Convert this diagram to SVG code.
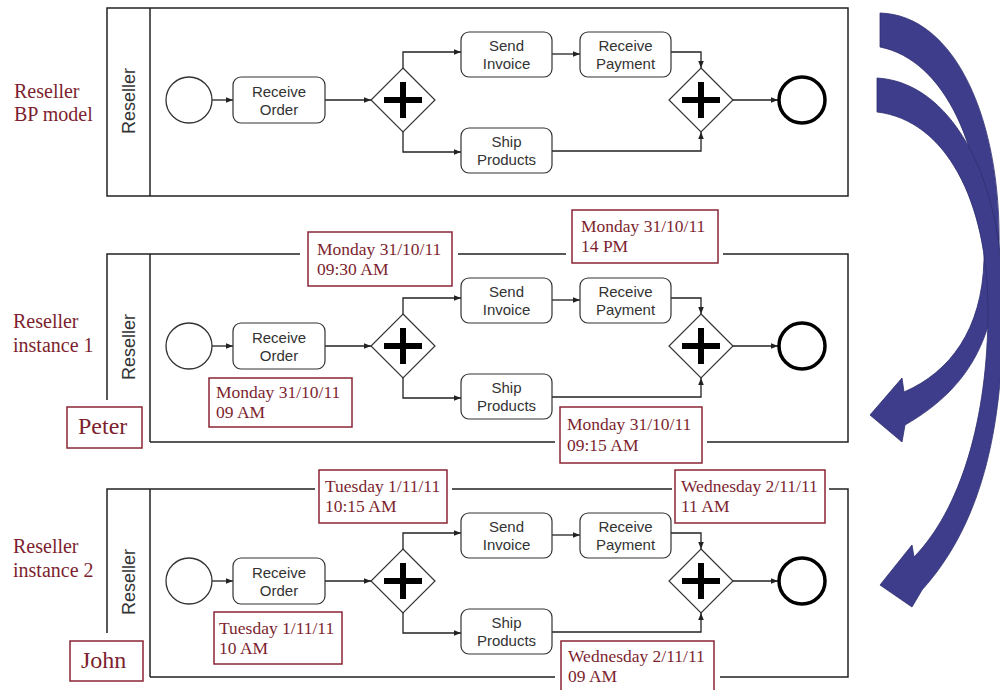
<svg xmlns="http://www.w3.org/2000/svg" width="1000" height="690" viewBox="0 0 1000 690">
<defs>
<style>
.pool{fill:none;stroke:#222;stroke-width:1.5}
.task{fill:#fff;stroke:#333;stroke-width:1.2}
.tt{font-family:"Liberation Sans",Arial,sans-serif;font-size:15px;fill:#333;text-anchor:middle}
.lane{font-family:"Liberation Sans",Arial,sans-serif;font-size:18px;fill:#333;text-anchor:middle}
.gw{fill:#fff;stroke:#333;stroke-width:1.2}
.plus{stroke:#000;stroke-width:6;fill:none}
.start{fill:#fff;stroke:#333;stroke-width:1.3}
.end{fill:#fff;stroke:#000;stroke-width:3.5}
.flow{fill:none;stroke:#222;stroke-width:1.3;marker-end:url(#ah)}
.dbox{fill:#fff;stroke:#8a2636;stroke-width:1.5}
.dt{font-family:"Liberation Serif","Times New Roman",serif;font-size:17.5px;fill:#7d1f2f}
.lbl{font-family:"Liberation Serif","Times New Roman",serif;font-size:20px;fill:#7d1f2f}
.who{font-family:"Liberation Serif","Times New Roman",serif;font-size:24px;fill:#7d1f2f}
.big{fill:#3d3d8c;stroke:#2e2e70;stroke-width:0.8}
</style>
<marker id="ah" viewBox="0 0 10 10" refX="10" refY="5" markerWidth="8" markerHeight="7" orient="auto" markerUnits="userSpaceOnUse"><path d="M0,1 L10,5 L0,9 z" fill="#222"/></marker>
</defs>
<rect width="1000" height="690" fill="#fff"/>

<!-- Big curved arrows -->
<g id="bigArrows">
<path class="big" d="M880,13 C955,15 1002,120 999,250 C997,330 975,385 905,425 L902,442 L870,415 L902,378 L904,392 C950,372 982,330 984,260 C986,150 945,60 880,47 Z"/>
<path class="big" d="M877,78 C950,82 1002,175 1003,300 C1004,420 985,520 922,590 L912,607 L880,585 L912,545 L914,557 C960,510 988,420 988,310 C988,200 945,120 877,112 Z"/>
</g>

<!-- Left labels -->
<g id="labels">
<text class="lbl" x="14" y="98">Reseller</text>
<text class="lbl" x="14" y="121">BP model</text>
<text class="lbl" x="13" y="328">Reseller</text>
<text class="lbl" x="13" y="352">instance 1</text>
<text class="lbl" x="13" y="553">Reseller</text>
<text class="lbl" x="13" y="577">instance 2</text>
</g>

<!-- Pool outlines -->
<g id="pool1">
<rect class="pool" x="107" y="8" width="741" height="188"/>
<line class="pool" x1="150" y1="8" x2="150" y2="196"/>
<text class="lane" transform="translate(135,101) rotate(-90)">Reseller</text>
</g>
<g id="pool2">
<path class="pool" d="M107,400 V254 H300 M458,254 H566 M723,254 H848 V442 H707 M555,442 H150 M150,254 V442"/>
<text class="lane" transform="translate(135,347) rotate(-90)">Reseller</text>
</g>
<g id="pool3">
<path class="pool" d="M107,633 V489 H315 M452,489 H672 M829,489 H848 V677 H720 M555,677 H150 M150,489 V677"/>
<text class="lane" transform="translate(135,582) rotate(-90)">Reseller</text>
</g>

<!-- Process model 1 -->
<g id="model1">
<g id="connectors1">
<line class="flow" x1="212" y1="100" x2="233" y2="100"/>
<line class="flow" x1="325" y1="100" x2="371" y2="100"/>
<path class="flow" d="M403,68 V52 H461"/>
<path class="flow" d="M403,132 V152 H461"/>
<line class="flow" x1="552" y1="54" x2="580" y2="54"/>
<path class="flow" d="M671,52 H701 V68"/>
<path class="flow" d="M552,151 H701 V132"/>
<line class="flow" x1="733" y1="100" x2="778" y2="100"/>
</g>
<g id="m1-start"><circle class="start" cx="189" cy="100" r="23"/></g>
<g id="m1-receiveOrder"><rect class="task" x="233" y="77" width="92" height="46" rx="8"/><text class="tt" x="279" y="97">Receive</text><text class="tt" x="279" y="115">Order</text></g>
<g id="m1-split"><polygon class="gw" points="403,68 435,100 403,132 371,100"/><path class="plus" d="M384,100 H422 M403,82 V118"/></g>
<g id="m1-sendInvoice"><rect class="task" x="461" y="32" width="91" height="45" rx="8"/><text class="tt" x="506.5" y="51">Send</text><text class="tt" x="506.5" y="69">Invoice</text></g>
<g id="m1-shipProducts"><rect class="task" x="461" y="128" width="91" height="45" rx="8"/><text class="tt" x="506.5" y="147">Ship</text><text class="tt" x="506.5" y="165">Products</text></g>
<g id="m1-receivePayment"><rect class="task" x="580" y="32" width="91" height="45" rx="8"/><text class="tt" x="625.5" y="51">Receive</text><text class="tt" x="625.5" y="69">Payment</text></g>
<g id="m1-join"><polygon class="gw" points="701,68 733,100 701,132 669,100"/><path class="plus" d="M682,100 H720 M701,82 V118"/></g>
<g id="m1-end"><circle class="end" cx="802" cy="100" r="23"/></g>
</g>

<!-- Process instance 1 -->
<g id="model2" transform="translate(0,246)">
<g id="connectors2">
<line class="flow" x1="212" y1="100" x2="233" y2="100"/>
<line class="flow" x1="325" y1="100" x2="371" y2="100"/>
<path class="flow" d="M403,68 V52 H461"/>
<path class="flow" d="M403,132 V152 H461"/>
<line class="flow" x1="552" y1="54" x2="580" y2="54"/>
<path class="flow" d="M671,52 H701 V68"/>
<path class="flow" d="M552,151 H701 V132"/>
<line class="flow" x1="733" y1="100" x2="778" y2="100"/>
</g>
<g id="m2-start"><circle class="start" cx="189" cy="100" r="23"/></g>
<g id="m2-receiveOrder"><rect class="task" x="233" y="77" width="92" height="46" rx="8"/><text class="tt" x="279" y="97">Receive</text><text class="tt" x="279" y="115">Order</text></g>
<g id="m2-split"><polygon class="gw" points="403,68 435,100 403,132 371,100"/><path class="plus" d="M384,100 H422 M403,82 V118"/></g>
<g id="m2-sendInvoice"><rect class="task" x="461" y="32" width="91" height="45" rx="8"/><text class="tt" x="506.5" y="51">Send</text><text class="tt" x="506.5" y="69">Invoice</text></g>
<g id="m2-shipProducts"><rect class="task" x="461" y="128" width="91" height="45" rx="8"/><text class="tt" x="506.5" y="147">Ship</text><text class="tt" x="506.5" y="165">Products</text></g>
<g id="m2-receivePayment"><rect class="task" x="580" y="32" width="91" height="45" rx="8"/><text class="tt" x="625.5" y="51">Receive</text><text class="tt" x="625.5" y="69">Payment</text></g>
<g id="m2-join"><polygon class="gw" points="701,68 733,100 701,132 669,100"/><path class="plus" d="M682,100 H720 M701,82 V118"/></g>
<g id="m2-end"><circle class="end" cx="802" cy="100" r="23"/></g>
</g>

<!-- Process instance 2 -->
<g id="model3" transform="translate(0,481)">
<g id="connectors3">
<line class="flow" x1="212" y1="100" x2="233" y2="100"/>
<line class="flow" x1="325" y1="100" x2="371" y2="100"/>
<path class="flow" d="M403,68 V52 H461"/>
<path class="flow" d="M403,132 V152 H461"/>
<line class="flow" x1="552" y1="54" x2="580" y2="54"/>
<path class="flow" d="M671,52 H701 V68"/>
<path class="flow" d="M552,151 H701 V132"/>
<line class="flow" x1="733" y1="100" x2="778" y2="100"/>
</g>
<g id="m3-start"><circle class="start" cx="189" cy="100" r="23"/></g>
<g id="m3-receiveOrder"><rect class="task" x="233" y="77" width="92" height="46" rx="8"/><text class="tt" x="279" y="97">Receive</text><text class="tt" x="279" y="115">Order</text></g>
<g id="m3-split"><polygon class="gw" points="403,68 435,100 403,132 371,100"/><path class="plus" d="M384,100 H422 M403,82 V118"/></g>
<g id="m3-sendInvoice"><rect class="task" x="461" y="32" width="91" height="45" rx="8"/><text class="tt" x="506.5" y="51">Send</text><text class="tt" x="506.5" y="69">Invoice</text></g>
<g id="m3-shipProducts"><rect class="task" x="461" y="128" width="91" height="45" rx="8"/><text class="tt" x="506.5" y="147">Ship</text><text class="tt" x="506.5" y="165">Products</text></g>
<g id="m3-receivePayment"><rect class="task" x="580" y="32" width="91" height="45" rx="8"/><text class="tt" x="625.5" y="51">Receive</text><text class="tt" x="625.5" y="69">Payment</text></g>
<g id="m3-join"><polygon class="gw" points="701,68 733,100 701,132 669,100"/><path class="plus" d="M682,100 H720 M701,82 V118"/></g>
<g id="m3-end"><circle class="end" cx="802" cy="100" r="23"/></g>
</g>

<!-- Timestamps instance 1 -->
<g id="t1a"><rect class="dbox" x="308" y="232" width="144" height="54"/><text class="dt" x="317" y="255">Monday 31/10/11</text><text class="dt" x="317" y="275">09:30 AM</text></g>
<g id="t1b"><rect class="dbox" x="572" y="210" width="146" height="53"/><text class="dt" x="581" y="232">Monday 31/10/11</text><text class="dt" x="581" y="252">14 PM</text></g>
<g id="t1c"><rect class="dbox" x="209" y="378" width="143" height="49"/><text class="dt" x="216" y="398">Monday 31/10/11</text><text class="dt" x="216" y="418">09 AM</text></g>
<g id="t1d"><rect class="dbox" x="560" y="407" width="142" height="56"/><text class="dt" x="567" y="430">Monday 31/10/11</text><text class="dt" x="567" y="451">09:15 AM</text></g>
<g id="peter"><rect class="dbox" x="67" y="407" width="75" height="41"/><text class="who" x="78" y="434">Peter</text></g>

<!-- Timestamps instance 2 -->
<g id="t2a"><rect class="dbox" x="319" y="470" width="128" height="53"/><text class="dt" x="325" y="492">Tuesday 1/11/11</text><text class="dt" x="325" y="512">10:15 AM</text></g>
<g id="t2b"><rect class="dbox" x="675" y="470" width="150" height="53"/><text class="dt" x="681" y="492">Wednesday 2/11/11</text><text class="dt" x="681" y="512">11 AM</text></g>
<g id="t2c"><rect class="dbox" x="214" y="612" width="128" height="52"/><text class="dt" x="219" y="634">Tuesday 1/11/11</text><text class="dt" x="219" y="654">10 AM</text></g>
<g id="t2d"><rect class="dbox" x="561" y="641" width="153" height="55"/><text class="dt" x="568" y="662">Wednesday 2/11/11</text><text class="dt" x="568" y="682">09 AM</text></g>
<g id="john"><rect class="dbox" x="70" y="641" width="73" height="40"/><text class="who" x="81" y="668">John</text></g>
</svg>
